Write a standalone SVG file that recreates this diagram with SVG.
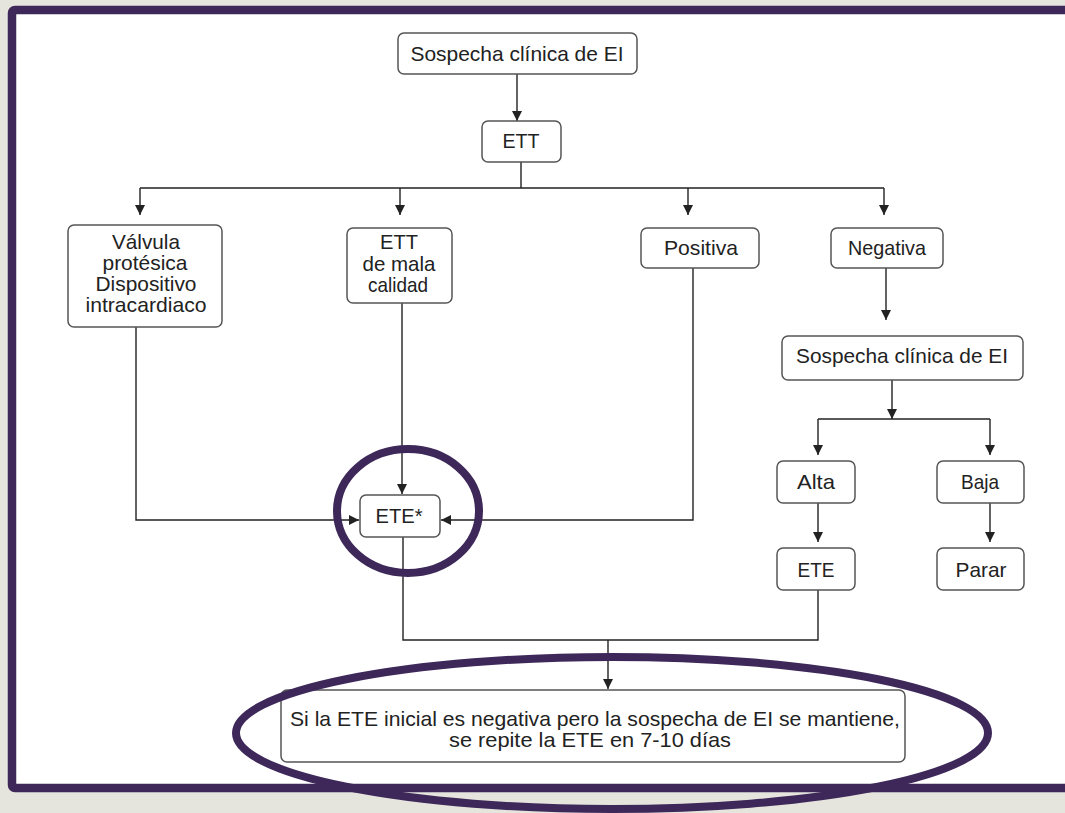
<svg xmlns="http://www.w3.org/2000/svg" width="1065" height="813" viewBox="0 0 1065 813">
<defs>
<style>
.n{fill:#fff;stroke:#555;stroke-width:1.5}
.t{font-family:"Liberation Sans",Arial,sans-serif;font-size:21px;fill:#222;text-anchor:middle}
.c{fill:none;stroke:#222;stroke-width:1.4}
.hl{fill:none;stroke:#3d2859;stroke-width:8}
</style>
<marker id="a" viewBox="0 0 10 10" refX="10" refY="5" markerWidth="10" markerHeight="10" markerUnits="userSpaceOnUse" orient="auto">
<path d="M0,0 L10,5 L0,10 Z" fill="#222"/>
</marker>
</defs>
<rect x="0" y="0" width="1065" height="813" fill="#e5e5de"/>
<rect x="12" y="10" width="1080" height="778" rx="3" fill="#fff" stroke="#3d2859" stroke-width="8.5"/>

<g id="connectors">
<path class="c" d="M517,74 V121" marker-end="url(#a)"/>
<path class="c" d="M521,162 V188 M140,188 H884"/>
<path class="c" d="M140,188 V215" marker-end="url(#a)"/>
<path class="c" d="M400,188 V215" marker-end="url(#a)"/>
<path class="c" d="M688,188 V215" marker-end="url(#a)"/>
<path class="c" d="M884,188 V215" marker-end="url(#a)"/>
<path class="c" d="M886,268 V320" marker-end="url(#a)"/>
<path class="c" d="M892,380 V419" marker-end="url(#a)"/>
<path class="c" d="M818,419 H990"/>
<path class="c" d="M818,419 V455" marker-end="url(#a)"/>
<path class="c" d="M990,419 V455" marker-end="url(#a)"/>
<path class="c" d="M818,503 V542" marker-end="url(#a)"/>
<path class="c" d="M990,503 V542" marker-end="url(#a)"/>
<path class="c" d="M402,303 V494" marker-end="url(#a)"/>
<path class="c" d="M136,327 V520 H359" marker-end="url(#a)"/>
<path class="c" d="M693,268 V520 H441" marker-end="url(#a)"/>
<path class="c" d="M403,537 V640 H818 V590"/>
<path class="c" d="M608,640 V689" marker-end="url(#a)"/>
</g>

<g id="n1"><rect class="n" x="398" y="33" width="239" height="41" rx="6"/><text class="t" x="517" y="61" textLength="213" lengthAdjust="spacingAndGlyphs">Sospecha clínica de EI</text></g>
<g id="n2"><rect class="n" x="482" y="121" width="79" height="41" rx="6"/><text class="t" x="521" y="148" textLength="37" lengthAdjust="spacingAndGlyphs">ETT</text></g>
<g id="n3"><rect class="n" x="68" y="225" width="154" height="102" rx="6"/>
<text class="t" x="146" y="249" textLength="68" lengthAdjust="spacingAndGlyphs">Válvula</text>
<text class="t" x="145" y="270" textLength="85" lengthAdjust="spacingAndGlyphs">protésica</text>
<text class="t" x="146" y="291" textLength="101" lengthAdjust="spacingAndGlyphs">Dispositivo</text>
<text class="t" x="146" y="312" textLength="121" lengthAdjust="spacingAndGlyphs">intracardiaco</text></g>
<g id="n4"><rect class="n" x="347" y="228" width="105" height="75" rx="6"/>
<text class="t" x="399" y="249" textLength="38" lengthAdjust="spacingAndGlyphs">ETT</text>
<text class="t" x="399" y="271" textLength="73" lengthAdjust="spacingAndGlyphs">de mala</text>
<text class="t" x="398" y="292" textLength="60" lengthAdjust="spacingAndGlyphs">calidad</text></g>
<g id="n5"><rect class="n" x="641" y="228" width="118" height="40" rx="6"/><text class="t" x="701" y="255" textLength="74" lengthAdjust="spacingAndGlyphs">Positiva</text></g>
<g id="n6"><rect class="n" x="831" y="228" width="112" height="40" rx="6"/><text class="t" x="887" y="255" textLength="78" lengthAdjust="spacingAndGlyphs">Negativa</text></g>
<g id="n7"><rect class="n" x="782" y="336" width="241" height="44" rx="6"/><text class="t" x="902" y="363" textLength="212" lengthAdjust="spacingAndGlyphs">Sospecha clínica de EI</text></g>
<g id="n8"><rect class="n" x="777" y="461" width="78" height="42" rx="6"/><text class="t" x="816" y="489" textLength="38" lengthAdjust="spacingAndGlyphs">Alta</text></g>
<g id="n9"><rect class="n" x="937" y="461" width="87" height="42" rx="6"/><text class="t" x="980" y="489" textLength="38" lengthAdjust="spacingAndGlyphs">Baja</text></g>
<g id="n10"><rect class="n" x="777" y="548" width="78" height="42" rx="6"/><text class="t" x="816" y="577" textLength="37" lengthAdjust="spacingAndGlyphs">ETE</text></g>
<g id="n11"><rect class="n" x="937" y="548" width="87" height="42" rx="6"/><text class="t" x="981" y="577" textLength="51" lengthAdjust="spacingAndGlyphs">Parar</text></g>
<g id="n12"><rect class="n" x="360" y="495" width="80" height="42" rx="6"/><text class="t" x="399" y="523" textLength="47" lengthAdjust="spacingAndGlyphs">ETE*</text></g>
<g id="n13"><rect class="n" x="281" y="690" width="624" height="72" rx="6"/>
<text class="t" x="595" y="726" textLength="610" lengthAdjust="spacingAndGlyphs">Si la ETE inicial es negativa pero la sospecha de EI se mantiene,</text>
<text class="t" x="590" y="747" textLength="282" lengthAdjust="spacingAndGlyphs">se repite la ETE en 7-10 días</text></g>

<g id="highlights">
<ellipse class="hl" cx="408" cy="511" rx="71" ry="62"/>
<ellipse class="hl" cx="612" cy="733" rx="376" ry="76"/>
</g>
</svg>
